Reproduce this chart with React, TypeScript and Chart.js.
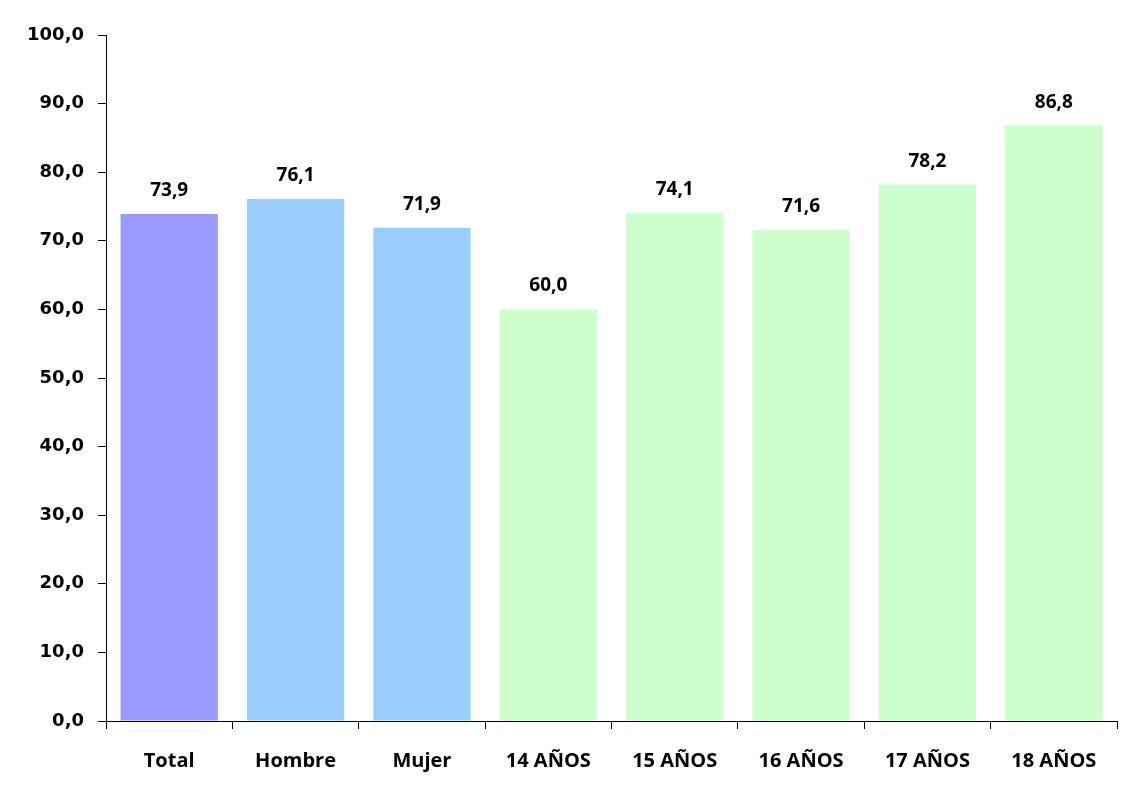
import React, { useEffect, useRef } from "react";
import { Chart, registerables } from "chart.js";

Chart.register(...registerables);

const categories = ["Total", "Hombre", "Mujer", "14 AÑOS", "15 AÑOS", "16 AÑOS", "17 AÑOS", "18 AÑOS"];
const values = [73.9, 76.1, 71.9, 60.0, 74.1, 71.6, 78.2, 86.8];
const barColors = ["#9999FF", "#99CCFF", "#99CCFF", "#CCFFCC", "#CCFFCC", "#CCFFCC", "#CCFFCC", "#CCFFCC"];
const yMin = 0;
const yMax = 100;
const yStep = 10;

const fmt = (v: number) => v.toFixed(1).replace(".", ",");

const labelPlugin = {
  id: "barLabels",
  afterDatasetsDraw(chart: any) {
    const ctx = chart.ctx;
    const meta = chart.getDatasetMeta(0);
    ctx.save();
    ctx.font = "bold 19px 'Open Sans', sans-serif";
    ctx.fillStyle = "#000";
    ctx.textAlign = "center";
    ctx.textBaseline = "alphabetic";
    meta.data.forEach((bar: any, i: number) => {
      ctx.fillText(fmt(values[i]), bar.x, bar.y - 18);
    });
    ctx.restore();
  },
};

export default function App() {
  const ref = useRef<HTMLCanvasElement | null>(null);
  useEffect(() => {
    if (!ref.current) return;
    const chart = new Chart(ref.current, {
      type: "bar",
      data: {
        labels: categories,
        datasets: [
          {
            data: values,
            backgroundColor: barColors,
            borderWidth: 0,
            categoryPercentage: 1,
            barPercentage: 0.77,
          },
        ],
      },
      options: {
        animation: false,
        responsive: false,
        maintainAspectRatio: false,
        devicePixelRatio: 1,
        layout: { padding: { top: 35, right: 5, left: 0, bottom: 0 } },
        plugins: { legend: { display: false }, tooltip: { enabled: false } },
        scales: {
          x: {
            grid: {
              display: true,
              drawOnChartArea: false,
              drawTicks: true,
              tickLength: 8,
              color: "#000",
              offset: true,
            },
            border: { display: true, color: "#000", width: 1 },
            ticks: {
              color: "#000",
              padding: 20,
              font: { family: "'Open Sans', sans-serif", size: 20, weight: "bold" },
              maxRotation: 0,
            },
            afterFit(scale: any) {
              scale.height = 72;
            },
          },
          y: {
            min: yMin,
            max: yMax,
            grid: {
              display: true,
              drawOnChartArea: false,
              drawTicks: true,
              tickLength: 8,
              color: "#000",
            },
            border: { display: true, color: "#000", width: 1 },
            ticks: {
              stepSize: yStep,
              color: "#000",
              padding: 14,
              font: { family: "'DejaVu Sans', sans-serif", size: 18, weight: "bold" },
              callback: (v: any) => fmt(Number(v)),
            },
            afterFit(scale: any) {
              scale.width = 106;
            },
          },
        },
      },
      plugins: [labelPlugin],
    });
    return () => chart.destroy();
  }, []);
  return (
    <div style={{ position: "fixed", left: 0, top: 0, width: 1122, height: 793, background: "#fff" }}>
      <canvas ref={ref} width={1122} height={793} style={{ width: 1122, height: 793 }} />
    </div>
  );
}
